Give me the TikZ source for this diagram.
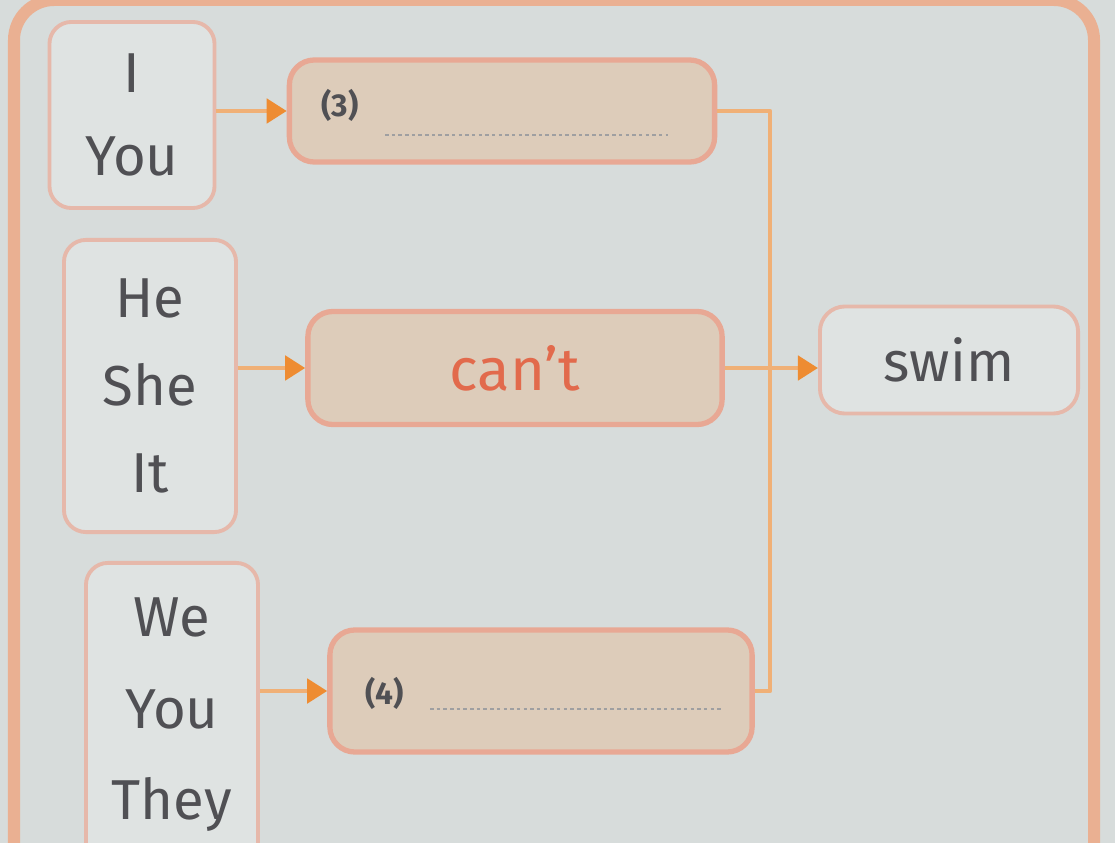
\documentclass[tikz,border=0pt]{standalone}
\usepackage{fontspec}
\setmainfont{Fira Sans}
\usetikzlibrary{arrows.meta, positioning, calc}
\definecolor{paper}{RGB}{215, 220, 219}
\definecolor{frame}{RGB}{234, 176, 146}
\definecolor{edge}{RGB}{232, 168, 148}
\definecolor{edgelight}{RGB}{230, 184, 170}
\definecolor{beige}{RGB}{221, 204, 186}
\definecolor{wire}{RGB}{240, 176, 118}
\definecolor{tip}{RGB}{238, 140, 50}
\definecolor{ink}{RGB}{80, 80, 84}
\definecolor{cantred}{RGB}{226, 106, 76}

\begin{document}
\begin{tikzpicture}[x=0.01cm, y=-0.01cm,
    who/.style={draw=edgelight, line width=1.1pt, rounded corners=0.22cm, fill=paper!80!white,
        text=ink, align=center, inner sep=0pt},
    gap/.style={draw=edge, line width=1.5pt, rounded corners=0.25cm, fill=beige, inner sep=0pt},
    num/.style={text=ink, font=\bfseries\fontsize{9}{10}\selectfont, inner sep=0pt},
    blank/.style={draw=ink!55, line width=0.8pt, dash pattern=on 1pt off 0.9pt},
    wirearrow/.style={draw=wire, line width=1.3pt, -{Triangle[length=0.2cm, width=0.24cm, color=tip]}},
    bus/.style={draw=wire, line width=1.3pt, line join=round}]
    % Paper and frame
    \useasboundingbox (0,0) rectangle (1115,843);
    \clip (0,0) rectangle (1115,843);
    \fill[paper] (0,0) rectangle (1115,843);
    \draw[frame, line width=0.12cm, rounded corners=0.4cm] (14,0) rectangle (1094,920);

    % Subjects
    \node[who, minimum width=1.65cm, minimum height=1.86cm, font=\fontsize{16}{23.5}\selectfont]
        (one) at (132,115) {I\\You};
    \node[who, minimum width=1.72cm, minimum height=2.92cm, font=\fontsize{16}{25}\selectfont]
        (three) at (150,386) {He\\She\\It};
    \node[who, minimum width=1.72cm, minimum height=3.04cm, font=\fontsize{16}{26}\selectfont]
        (many) at (172,715) {We\\You\\They};

    % Verb boxes
    \node[gap, minimum width=4.25cm, minimum height=1.02cm] (gapA) at (502,111) {};
    \node[gap, minimum width=4.14cm, minimum height=1.13cm, text=cantred,
        font=\fontsize{17}{20}\selectfont] (cant) at (515,368) {can't};
    \node[gap, minimum width=4.22cm, minimum height=1.22cm] (gapC) at (541,691) {};

    \node[num] (numA) at ($(gapA.center)+(-162,-6)$) {(3)};
    \draw[blank] ($(gapA.center)+(-117,24)$) -- ($(gapA.center)+(166,24)$);
    \node[num] (numC) at ($(gapC.center)+(-156,2)$) {(4)};
    \draw[blank] ($(gapC.center)+(-111,18)$) -- ($(gapC.center)+(181,18)$);

    % Result
    \node[who, minimum width=2.58cm, minimum height=1.07cm, rounded corners=0.25cm,
        font=\fontsize{16}{20}\selectfont] (swim) at (949,360) {swim};

    % Arrows
    \coordinate (bus) at (770,0);
    \draw[bus] (gapA.east) -- (gapA.east -| bus) -- (gapC.east -| bus) -- (gapC.east);
    \draw[wirearrow] (one.east |- gapA.west) -- (gapA.west);
    \draw[wirearrow] (three.east |- cant.west) -- (cant.west);
    \draw[wirearrow] (many.east |- gapC.west) -- (gapC.west);
    \draw[wirearrow] (cant.east) -- (cant.east -| swim.west);
\end{tikzpicture}
\end{document}
